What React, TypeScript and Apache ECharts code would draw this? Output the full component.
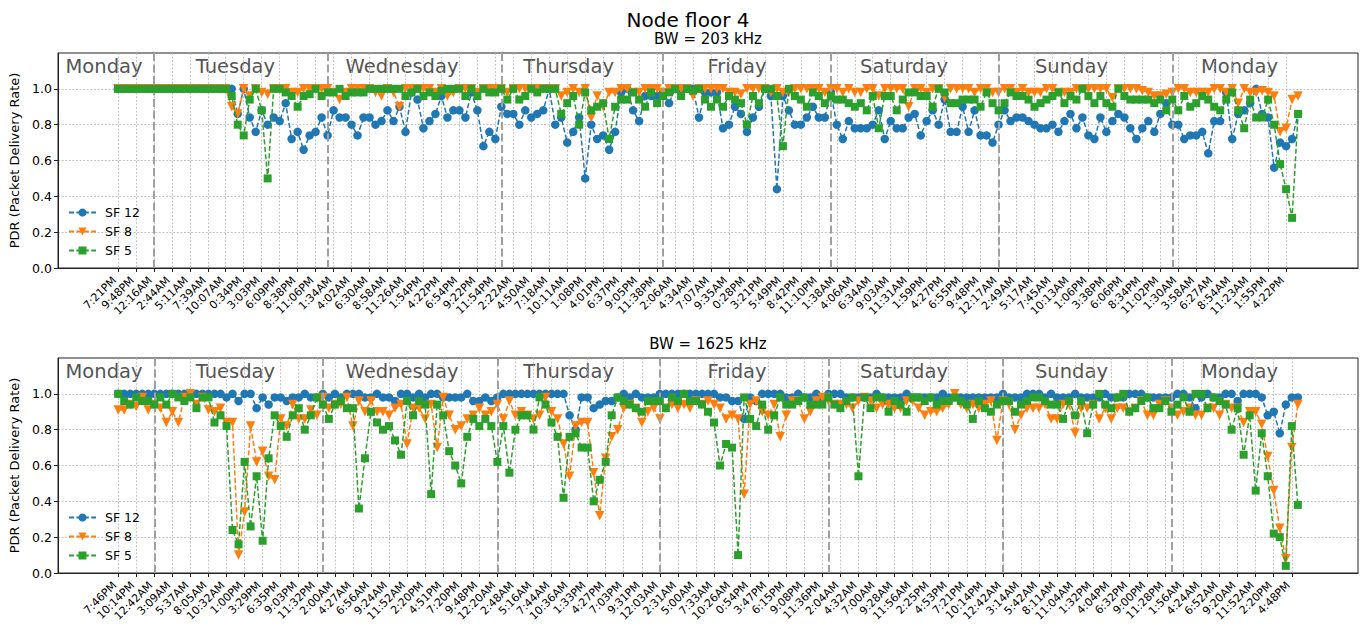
import React, { useEffect, useRef } from 'react';
import * as echarts from 'echarts';

// ---------- tick labels ----------
const topTicks = ['7:21PM','9:48PM','12:16AM','2:44AM','5:11AM','7:39AM','10:07AM','0:34PM','3:03PM','6:09PM','8:38PM','11:06PM','1:34AM','4:02AM','6:30AM','8:58AM','11:26AM','1:54PM','4:22PM','6:54PM','9:22PM','11:54PM','2:22AM','4:50AM','7:18AM','10:11AM','1:08PM','4:01PM','6:37PM','9:05PM','11:38PM','2:06AM','4:34AM','7:07AM','9:35AM','0:28PM','3:21PM','5:49PM','8:42PM','11:10PM','1:38AM','4:06AM','6:34AM','9:03AM','11:31AM','1:59PM','4:27PM','6:55PM','9:48PM','12:17AM','2:49AM','5:17AM','7:45AM','10:13AM','1:06PM','3:38PM','6:06PM','8:34PM','11:02PM','1:30AM','3:58AM','6:27AM','8:54AM','11:23AM','1:55PM','4:22PM'];
const bottomTicks = ['7:46PM','10:14PM','12:42AM','3:09AM','5:37AM','8:05AM','10:32AM','1:00PM','3:29PM','6:35PM','9:03PM','11:32PM','2:00AM','4:27AM','6:56AM','9:24AM','11:52AM','2:20PM','4:51PM','7:20PM','9:48PM','12:20AM','2:48AM','5:16AM','7:44AM','10:36AM','1:33PM','4:27PM','7:03PM','9:31PM','12:03AM','2:31AM','5:00AM','7:33AM','10:26AM','0:54PM','3:47PM','6:15PM','9:08PM','11:36PM','2:04AM','4:32AM','7:00AM','9:28AM','11:56AM','2:25PM','4:53PM','7:21PM','10:14PM','12:42AM','3:14AM','5:42AM','8:11AM','11:04AM','1:32PM','4:04PM','6:32PM','9:00PM','11:28PM','1:56AM','4:24AM','6:52AM','9:20AM','11:52AM','2:20PM','4:48PM'];

// ---------- BW = 203 kHz ----------
const top_SF12 = [
  1,1,1,1,1,1,1,1,1,1,
  1,1,1,1,1,1,1,1,1,1,
  .86,1,.84,.76,.88,.80,.84,.82,.92,.72,
  .76,.66,.74,.76,.84,.74,.88,.84,.84,.80,
  .74,.84,.84,.80,.82,.88,.82,.90,.76,.98,
  .94,.78,.82,.86,.96,.84,.88,.88,.84,.98,
  .88,.68,.76,.72,.90,.86,.86,.80,.88,.84,
  .86,.88,1,.80,.84,.70,.76,.84,.50,.80,
  .72,.74,.66,.76,.98,1,.88,.82,.96,.96,
  .96,.98,.92,1,1,1,1,.84,.98,.98,
  .98,.78,.80,.90,.86,.76,.84,.90,1,.96,
  .44,.96,.88,.80,.80,.84,.90,.84,.84,.98,
  .80,.72,.82,.78,.78,.78,.80,.88,.72,.82,
  .78,.78,.84,.86,.74,.82,.88,.80,.94,.76,
  .76,.90,.76,.88,.74,.74,.70,.80,.88,.82,
  .84,.84,.82,.80,.78,.78,.80,.76,.82,.86,
  .78,.84,.74,.72,.84,.76,.82,.86,.84,.78,
  .72,.78,.82,.76,.86,.92,.80,.80,.72,.74,
  .74,.76,.64,.82,.82,.98,.72,.86,.88,.92,
  1,.86,.84,.56,.70,.68,.72,.86,
];
const top_SF8 = [
  1,1,1,1,1,1,1,1,1,1,
  1,1,1,1,1,1,1,1,1,.90,
  .86,1,.96,1,.98,.97,1,1,1,.98,
  .98,1,1,1,1,1,.98,.94,.98,1,
  1,1,1,.98,.96,1,.98,.90,1,1,
  1,1,1,.98,1,.96,.98,1,1,1,
  .98,1,1,1,1,.98,1,1,1,1,
  1,1,1,1,.96,.98,1,.98,1,.84,
  .96,.90,.98,.98,1,1,.98,.98,1,1,
  1,.98,1,1,1,1,.96,1,1,1,
  1,1,.98,.98,.97,1,1,1,1,.98,
  1,.98,.98,1,1,1,1,1,.98,1,
  1,.98,1,.98,.98,1,1,.96,1,1,
  1,1,.90,1,1,.98,1,1,.95,1,
  1,1,1,.98,1,1,.98,.98,1,1,
  .98,1,.98,.98,.98,1,1,.98,.98,.98,
  1,1,1,1,1,1,.95,1,1,1,
  1,.99,.98,.96,.96,.97,.98,1,1,.98,
  .98,.98,.98,1,1,.98,1,.92,1,.98,
  .98,.99,.98,.96,.76,.78,.94,.96,
];
const top_SF5 = [
  1,1,1,1,1,1,1,1,1,1,
  1,1,1,1,1,1,1,1,1,.96,
  .80,.74,.94,1,.88,.50,1,1,.98,.96,
  .90,.96,.97,1,.96,.98,.98,1,.96,.98,
  .98,.98,1,1,1,1,1,1,.96,.98,
  1,.96,.98,.96,.99,1,1,1,.96,1,
  .96,1,.98,.98,1,.94,1,.94,.96,1,
  .98,1,1,1,.86,.92,.96,.80,.98,.88,
  .90,.92,.72,.90,.94,.94,.98,.94,.90,.98,
  .92,.96,.98,1,.96,1,.99,1,.94,.90,
  .94,.90,.96,.94,.92,.80,.96,.92,1,1,
  .96,.68,1,.96,.94,.90,.98,.96,.92,.96,
  .94,.94,.92,.90,.92,.88,.96,.78,.96,.96,
  .88,.94,.98,.98,.96,.96,.90,1,.98,.92,
  .92,.94,.94,.94,.90,.98,.92,.88,.92,.98,
  .96,.96,.94,.90,.92,.94,.96,.98,.92,.96,
  .94,1,.96,.92,.96,.92,.90,1,.96,.94,
  .94,.94,.94,.92,.94,.88,.94,.88,.96,.90,
  .92,.96,.94,.90,.88,.94,.98,.88,.78,.94,
  .84,.84,.94,.80,.58,.44,.28,.86,
];

// ---------- BW = 1625 kHz ----------
const bottom_SF12 = [
  1,1,1,1,1,1,1,1,1,1,
  1,1,1,1,1,1,1,1,.98,1,
  .96,1,1,.92,.98,.94,.98,.98,.96,.98,
  .98,1,.98,.98,1,.98,1,.98,1,1,
  1,.98,.98,1,.98,.98,.96,1,1,.98,
  1,.98,1,1,.98,.98,.98,.98,1,.96,
  .96,.98,.96,.98,1,1,1,1,1,1,
  1,1,1,1,1,.88,.80,.98,.98,.92,
  .94,.96,.96,.98,1,.98,1,.98,.98,.98,
  1,1,1,1,1,1,1,1,1,1,
  .98,.98,.96,.96,.86,.98,.96,1,1,1,
  1,.98,.98,1,.98,.98,1,.98,1,1,
  1,.98,.98,.98,.98,.98,1,.98,.98,.98,
  .98,1,.98,.98,.98,.98,.98,1,.98,.98,
  .98,.98,.98,.98,.98,.98,.98,1,.98,.98,
  .98,1,1,1,.98,1,.98,.98,.98,1,
  .98,.98,.98,.98,1,.98,.98,.98,1,1,
  1,.98,.98,.98,.98,.98,1,1,.98,.92,
  .98,1,.98,.98,1,1,.96,1,1,1,
  .98,.88,.90,.78,.94,.98,.98,
];
const bottom_SF8 = [
  .91,.91,.94,.93,.98,.91,.94,.92,.84,.90,
  .84,.98,1,.94,.98,.91,.90,.92,.84,.84,
  .10,.34,.82,.62,.68,.54,.52,.86,.82,.94,
  .86,.86,.91,.88,.98,.92,.94,.94,.98,.82,
  .96,.90,.96,.90,.90,.88,.92,.94,.72,.92,
  .92,.86,.94,.70,.98,.88,.80,.82,.86,.88,
  .92,.88,.90,.94,.86,.96,.88,.90,.88,.86,
  .88,.98,.90,.86,.72,.54,.82,.84,.84,.56,
  .32,.64,.76,.80,.92,.94,.92,.84,.90,.92,
  .86,.92,.94,.92,.94,.92,.96,.94,.96,.94,
  .92,.86,.88,.86,.44,.94,.96,.90,.88,.94,
  .76,.88,.96,.96,.86,.90,.96,.98,.96,.94,
  .94,.94,.92,.96,.98,.96,.92,.94,.94,.92,
  .92,.96,.96,.92,.88,.90,.90,.92,.94,1,
  .94,.92,.94,.92,.94,.96,.74,.96,.94,.80,
  .88,.92,.92,.92,.94,.86,.86,.94,.94,.78,
  .92,.92,.94,.86,.92,.86,.92,.92,.90,.92,
  .96,.88,.88,.94,.96,.92,.88,.90,.92,.88,
  .88,.92,.92,.88,.94,.92,.92,.84,.90,.90,
  .83,.65,.46,.25,.08,.70,.94,
];
const bottom_SF5 = [
  1,.96,.94,.98,.96,.96,.94,.98,.94,1,
  .98,.96,.98,.92,.98,.98,.84,.88,.82,.24,
  .16,.62,.26,.54,.18,.64,.88,.82,.76,.88,
  .92,.80,.88,.98,.94,.86,.94,.96,.92,.92,
  .36,.64,.90,.84,.80,.82,.74,.66,.96,.88,
  .96,.94,.44,.94,.88,.68,.60,.50,.76,.86,
  .82,.86,.82,.62,.82,.56,.80,.88,.88,.80,
  .98,.94,.84,.76,.42,.76,.78,.70,.70,.40,
  .52,.62,.88,.98,.96,.94,.92,.90,.96,.96,
  .96,.92,.98,.96,1,.96,.96,.94,.90,.84,
  .60,.72,.70,.10,.98,.86,.82,.94,.80,.88,
  .98,.94,.94,.96,.98,.94,.94,.94,.98,.94,
  .92,.96,.98,.54,.98,.92,.98,.98,.90,.96,
  .94,.90,.98,.98,.96,.98,.94,.96,.96,.98,
  .96,.94,.86,.96,.92,.90,.94,.96,.96,.90,
  .94,.96,.98,.98,.96,.94,.94,.86,.96,.88,
  .96,.78,.94,1,.94,.92,.98,1,.90,.92,
  .96,.98,.92,.92,.96,.90,.94,.98,.90,1,
  1,.92,.98,.96,.94,.80,.92,.66,.88,.46,
  .78,.54,.22,.20,.04,.82,.38,
];

// ---------- annotations ----------
const seriesNames = ['SF 12', 'SF 8', 'SF 5'];
const subTitles = ['BW = 203 kHz', 'BW = 1625 kHz'];
const topDaySeparators = [6, 35, 64, 91, 119, 147, 176];
const bottomDaySeparators = [6, 34, 63, 90, 118, 147, 175];
const dayNames = ['Monday', 'Tuesday', 'Wednesday', 'Thursday', 'Friday', 'Saturday', 'Sunday', 'Monday'];
const dayLabelFrac = [0.0354, 0.1365, 0.2646, 0.3928, 0.5223, 0.6508, 0.7796, 0.9088];

const COLORS = ['#1f77b4', '#ff7f0e', '#2ca02c'];
const FONT = 'DejaVu Sans';
const PAD = 10;
const GL = 58, GW = 1300, GH = 215;
const GTOP = [53, 358];

function buildXAxis(gridIndex: number, n: number, ticks: string[]) {
  const total = n + 2 * PAD;
  const cats = Array.from({ length: total }, (_, i) => String(i));
  const isTick = (idx: number) => idx >= PAD && (idx - PAD) % 3 === 0 && (idx - PAD) / 3 < ticks.length;
  return {
    type: 'category',
    gridIndex,
    data: cats,
    boundaryGap: false,
    axisLine: { show: true, onZero: false, lineStyle: { color: '#222', width: 1 } },
    axisTick: { show: true, interval: (idx: number) => isTick(idx), length: 4, lineStyle: { color: '#222' } },
    axisLabel: {
      interval: 0,
      rotate: 45,
      margin: 7,
      padding: [0, 5, 0, 0],
      fontSize: 11,
      fontFamily: FONT,
      color: '#000',
      formatter: (v: string) => {
        const idx = Number(v);
        return isTick(idx) ? ticks[(idx - PAD) / 3] : '';
      },
    },
    splitLine: {
      show: true,
      interval: (idx: number) => isTick(idx),
      lineStyle: { color: '#b5b5b5', width: 0.8, type: [2, 1.6] },
    },
  };
}

function buildYAxis(gridIndex: number) {
  return {
    type: 'value',
    gridIndex,
    min: 0,
    max: 1.2,
    interval: 0.2,
    axisLine: { show: true, lineStyle: { color: '#222', width: 1 } },
    axisTick: { show: true, length: 4, lineStyle: { color: '#222' }, customValues: [0, 0.2, 0.4, 0.6, 0.8, 1.0] },
    axisLabel: {
      fontSize: 12.5,
      fontFamily: FONT,
      color: '#000',
      margin: 6,
      formatter: (v: number) => (v > 1.05 ? '' : v.toFixed(1)),
    },
    splitLine: { show: true, lineStyle: { color: '#b5b5b5', width: 0.8, type: [2, 1.6] } },
    name: 'PDR (Packet Delivery Rate)',
    nameLocation: 'middle',
    nameGap: 31,
    nameTextStyle: { fontSize: 13, fontFamily: FONT, color: '#000' },
  };
}

function buildSeries(gridIndex: number, data: number[][], seps: number[]) {
  const symbols = ['circle', 'triangle', 'rect'];
  const sizes = [8.5, 9.5, 8];
  const rot = [0, 180, 0];
  return data.map((vals, k) => {
    const s: any = {
      name: seriesNames[k],
      type: 'line',
      xAxisIndex: gridIndex,
      yAxisIndex: gridIndex,
      data: [...Array(PAD).fill('-'), ...vals],
      symbol: symbols[k],
      symbolSize: sizes[k],
      symbolRotate: rot[k],
      showAllSymbol: true,
      lineStyle: { color: COLORS[k], width: 1.5, type: [5, 2.4] },
      itemStyle: { color: COLORS[k] },
      emphasis: { disabled: true },
      z: 3 + k,
    };
    if (k === 0) {
      s.markLine = {
        silent: true,
        symbol: ['none', 'none'],
        label: { show: false },
        lineStyle: { color: '#a0a0a0', width: 2, type: [8, 3.5] },
        data: seps.map((d) => ({ xAxis: PAD + d })),
      };
    }
    return s;
  });
}

export default function App() {
  const ref = useRef<HTMLDivElement>(null);
  useEffect(() => {
    if (!ref.current) return;
    const chart = echarts.init(ref.current, null, { renderer: 'svg' });
    const graphic: any[] = [
      {
        type: 'text', x: 688, y: 20,
        style: { text: 'Node floor 4', font: `20px "${FONT}"`, fill: '#000', textAlign: 'center', textVerticalAlign: 'middle', align: 'center', verticalAlign: 'middle' },
      },
    ];
    GTOP.forEach((gt, g) => {
      graphic.push({
        type: 'text', x: GL + GW / 2, y: gt - 14,
        style: { text: subTitles[g], font: `15px "${FONT}"`, fill: '#000', textAlign: 'center', textVerticalAlign: 'middle', align: 'center', verticalAlign: 'middle' },
      });
      dayNames.forEach((d, i) => {
        graphic.push({
          type: 'text', x: GL + GW * dayLabelFrac[i], y: gt + 13.5,
          style: { text: d, font: `19.5px "${FONT}"`, fill: '#555', textAlign: 'center', textVerticalAlign: 'middle', align: 'center', verticalAlign: 'middle' },
        });
      });
    });
    const legendBase = {
      data: seriesNames,
      orient: 'vertical',
      left: 68,
      padding: 0,
      itemWidth: 27,
      itemHeight: 10,
      itemGap: 6,
      textStyle: { fontSize: 12.5, fontFamily: FONT, color: '#000', padding: [0, 0, 0, 4] },
      selectedMode: false,
    };
    const option: any = {
      animation: false,
      textStyle: { fontFamily: FONT },
      grid: GTOP.map((t) => ({
        left: GL, width: GW, top: t, height: GH,
        show: true, borderColor: '#222', borderWidth: 1, backgroundColor: 'transparent',
        containLabel: false,
      })),
      xAxis: [buildXAxis(0, top_SF12.length, topTicks), buildXAxis(1, bottom_SF12.length, bottomTicks)],
      yAxis: [buildYAxis(0), buildYAxis(1)],
      legend: [
        { ...legendBase, top: 206 },
        { ...legendBase, top: 511 },
      ],
      series: [
        ...buildSeries(0, [top_SF12, top_SF8, top_SF5], topDaySeparators),
        ...buildSeries(1, [bottom_SF12, bottom_SF8, bottom_SF5], bottomDaySeparators),
      ],
      graphic,
    };
    chart.setOption(option);
    return () => chart.dispose();
  }, []);
  return <div ref={ref} style={{ position: 'absolute', left: 0, top: 0, width: 1364, height: 629 }} />;
}
